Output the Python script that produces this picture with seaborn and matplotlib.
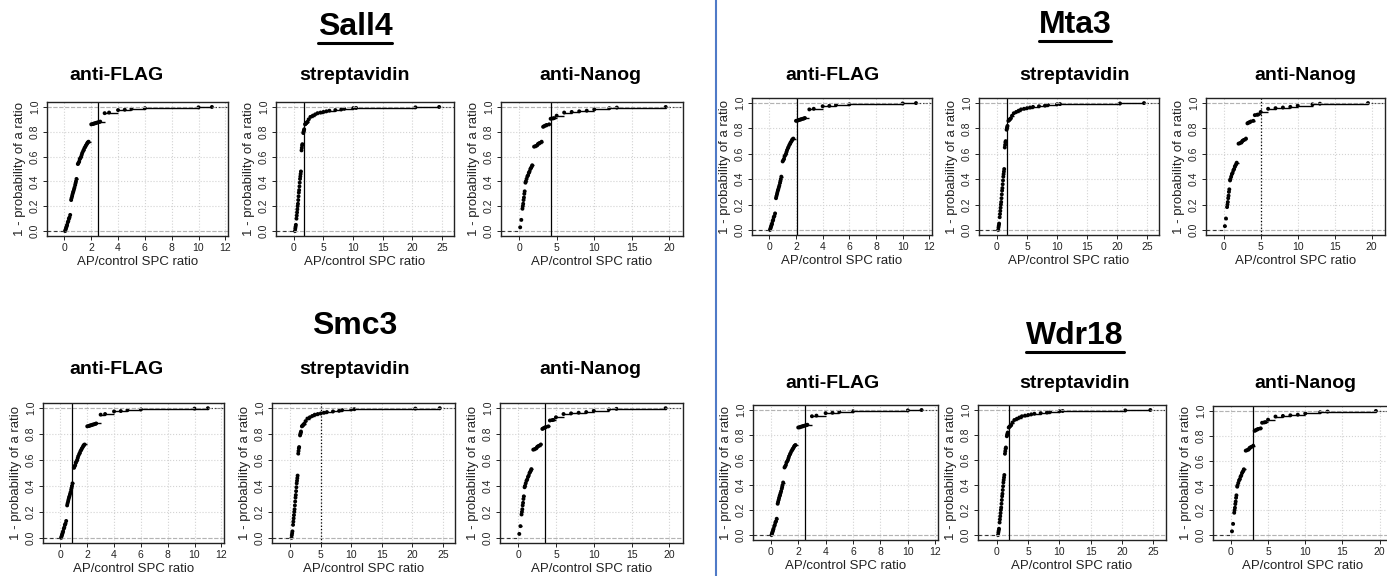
import numpy as np
import matplotlib.pyplot as plt
from matplotlib.lines import Line2D
import seaborn as sns

# ---- data ----
proteins = ['Sall4', 'Mta3', 'Smc3', 'Wdr18']
antibodies = ['anti-FLAG', 'streptavidin', 'anti-Nanog']

# ecdf steps for each antibody (same curves reused for each bait)
flag_ratio = [0.05, 0.08, 0.11, 0.14, 0.17, 0.2, 0.25, 0.29, 0.33, 0.38, 0.43,
              0.5, 0.53, 0.57, 0.6, 0.64, 0.67, 0.71, 0.75, 0.8, 0.83, 0.86, 0.9,
              1.0, 1.05, 1.1, 1.14, 1.2, 1.25, 1.29, 1.33, 1.4, 1.44, 1.5, 1.56, 1.6, 1.67, 1.71, 1.75, 1.8,
              2.0, 2.1, 2.17, 2.25, 2.33, 2.4, 2.5, 2.6, 2.67,
              3.0, 3.33, 4.0, 4.5, 5.0, 6.0, 10.0, 11.0]
flag_ecdf = [0.0, 0.01, 0.02, 0.03, 0.04, 0.05, 0.07, 0.08, 0.1, 0.11, 0.13,
             0.25, 0.265, 0.28, 0.295, 0.31, 0.32, 0.335, 0.35, 0.37, 0.385, 0.4, 0.42,
             0.54, 0.55, 0.56, 0.58, 0.59, 0.6, 0.615, 0.63, 0.645, 0.655, 0.67, 0.68, 0.69, 0.7, 0.71, 0.715, 0.72,
             0.86, 0.862, 0.865, 0.868, 0.87, 0.873, 0.876, 0.879, 0.882,
             0.95, 0.955, 0.975, 0.978, 0.985, 0.99, 0.997, 1.0]

strep_ratio = [0.2, 0.25, 0.3, 0.35, 0.45, 0.5, 0.55, 0.6, 0.65,
               0.7, 0.75, 0.8, 0.85, 0.9, 0.95, 1.0, 1.05, 1.1, 1.15, 1.2,
               1.3, 1.35, 1.4, 1.45, 1.6, 1.65, 1.7, 1.75,
               1.9, 2.0, 2.1, 2.2, 2.3, 2.5, 2.8, 3.2, 3.6, 4.0, 4.5, 5.0, 5.5, 6.0,
               7.0, 8.0, 8.5, 10.0, 10.5, 20.5, 24.5]
strep_ecdf = [0.0, 0.02, 0.035, 0.05, 0.1, 0.125, 0.15, 0.175, 0.2,
              0.22, 0.25, 0.28, 0.31, 0.33, 0.36, 0.39, 0.42, 0.44, 0.46, 0.48,
              0.65, 0.67, 0.69, 0.7, 0.79, 0.8, 0.81, 0.82,
              0.86, 0.865, 0.87, 0.875, 0.88, 0.9, 0.92, 0.93, 0.94, 0.95, 0.955, 0.96, 0.965, 0.97,
              0.975, 0.98, 0.985, 0.99, 0.992, 0.997, 1.0]

nanog_ratio = [0.15, 0.3, 0.45, 0.5, 0.55, 0.6, 0.65, 0.7, 0.75,
               0.85, 0.9, 1.0, 1.1, 1.2, 1.3, 1.4, 1.5, 1.6, 1.7, 1.75,
               2.0, 2.2, 2.4, 2.5, 2.6, 2.75, 3.0,
               3.2, 3.33, 3.5, 3.67, 4.0, 4.2, 4.5, 4.67, 5.0,
               6.0, 7.0, 8.0, 9.0, 10.0, 12.0, 13.0, 19.5]
nanog_ecdf = [0.03, 0.09, 0.18, 0.2, 0.22, 0.25, 0.27, 0.3, 0.32,
              0.39, 0.4, 0.42, 0.44, 0.45, 0.47, 0.48, 0.5, 0.51, 0.52, 0.53,
              0.68, 0.685, 0.69, 0.7, 0.705, 0.71, 0.72,
              0.84, 0.845, 0.85, 0.855, 0.86, 0.905, 0.908, 0.91, 0.93,
              0.955, 0.96, 0.965, 0.97, 0.98, 0.99, 0.995, 1.0]

# cutoff ratio per bait (anti-FLAG, streptavidin, anti-Nanog)
sall4_cut = [2.5, 1.8, 4.2]
mta3_cut = [2.1, 1.6, 5.0]
smc3_cut = [0.9, 5.0, 3.5]
wdr18_cut = [2.5, 2.0, 3.0]

# ---- layout ----
curves = [(flag_ratio, flag_ecdf), (strep_ratio, strep_ecdf), (nanog_ratio, nanog_ecdf)]
cuts = {'Sall4': sall4_cut, 'Mta3': mta3_cut, 'Smc3': smc3_cut, 'Wdr18': wdr18_cut}
cut_styles = {'Sall4': ['-', '-', '-'], 'Mta3': ['-', '-', ':'],
              'Smc3': ['-', ':', '-'], 'Wdr18': ['-', '-', '-']}
xlims = [(-1.3, 12.2), (-3.0, 27.0), (-2.4, 21.8)]
xticks = [np.arange(0, 13, 2), np.arange(0, 26, 5), np.arange(0, 21, 5)]

# axes boxes in pixels: left, top, right, bottom
boxes = {
    'Sall4': [(47, 102, 228, 236), (276, 102, 454, 236), (501, 102, 683, 236)],
    'Mta3': [(752, 98, 932, 235), (979, 98, 1159, 235), (1206, 98, 1385, 235)],
    'Smc3': [(43, 403, 224, 543), (272, 403, 455, 543), (500, 403, 683, 543)],
    'Wdr18': [(753, 405, 938, 540), (978, 405, 1166, 540), (1213, 406, 1393, 540)],
}
titles = {'Sall4': (355, 27, True), 'Mta3': (1075, 25, True),
          'Smc3': (355, 326, False), 'Wdr18': (1075, 336, True)}
sub_y = {'Sall4': 76, 'Mta3': 76, 'Smc3': 370, 'Wdr18': 383}
sub_x = {'Sall4': [117, 355, 590], 'Mta3': [832, 1075, 1305],
         'Smc3': [117, 355, 590], 'Wdr18': [832, 1075, 1305]}

sns.set_style('ticks')
plt.rcParams['font.family'] = ['Liberation Sans', 'DejaVu Sans']

W, H = 1387, 576
fig = plt.figure(figsize=(W / 100, H / 100), dpi=100)
txt = '#222222'


def draw_panel(box, ratio, ecdf, cut, cut_ls, xlim, xt):
    l, t, r, b = box
    ax = fig.add_axes([l / W, 1 - b / H, (r - l) / W, (b - t) / H])
    ax.set_xlim(xlim)
    ax.set_ylim(-0.04, 1.04)
    ax.set_xticks(xt)
    ax.set_yticks([0, 0.2, 0.4, 0.6, 0.8, 1.0])
    ax.set_yticklabels(['0.0', '0.2', '0.4', '0.6', '0.8', '1.0'], rotation=90, va='center')
    ax.grid(True, color='#d3d3d3', linestyle=':', linewidth=0.8)
    ax.axhline(0, color='#b3b3b3', ls='--', lw=0.8)
    ax.axhline(1, color='#b3b3b3', ls='--', lw=0.8)
    # step segments like R's plot.ecdf (no verticals)
    ax.hlines(ecdf[:-1], ratio[:-1], ratio[1:], color='k', lw=1.0)
    ax.hlines(0, xlim[0], ratio[0], color='#333333', lw=0.8, ls=(0, (3, 3)))
    ax.hlines(1, ratio[-1], xlim[1], color='#333333', lw=0.8, ls=(0, (1, 2)))
    sns.scatterplot(x=ratio, y=ecdf, ax=ax, s=8, color='k', edgecolor='none',
                    linewidth=0, legend=False)
    ax.axvline(cut, color='k', lw=0.9, ls=cut_ls)
    ax.tick_params(direction='out', length=3, width=0.7, labelsize=7.5,
                   colors=txt, pad=2)
    ax.set_xlabel('AP/control SPC ratio', fontsize=9.5, color=txt, labelpad=2)
    ax.set_ylabel('1 - probability of a ratio', fontsize=9.5, color=txt, labelpad=3)
    for sp in ax.spines.values():
        sp.set_linewidth(1)
        sp.set_color(txt)
    return ax


for p in proteins:
    for i, ab in enumerate(antibodies):
        ratio, ecdf = curves[i]
        draw_panel(boxes[p][i], np.array(ratio), np.array(ecdf), cuts[p][i],
                   cut_styles[p][i], xlims[i], xticks[i])
        fig.text(sub_x[p][i] / W, 1 - sub_y[p] / H, ab, ha='center', va='center',
                 fontsize=14, fontweight='bold', color='k')

title_objs = []
for p in proteins:
    x, y, ul = titles[p]
    t = fig.text(x / W, 1 - y / H, p, ha='center', va='center', fontsize=23,
                 fontweight='bold', color='k')
    title_objs.append((t, ul))

# underline the bait names
fig.canvas.draw()
rend = fig.canvas.get_renderer()
for t, ul in title_objs:
    if not ul:
        continue
    bb = t.get_window_extent(renderer=rend)
    yline = bb.y0 - 1
    fig.add_artist(Line2D([bb.x0 / W, bb.x1 / W], [yline / H, yline / H],
                          color='k', lw=2.2))

# divider between the two halves
fig.add_artist(Line2D([716 / W, 716 / W], [0, 1], color='#4f7ac7', lw=1.5))

fig.savefig('out.png', dpi=100)
